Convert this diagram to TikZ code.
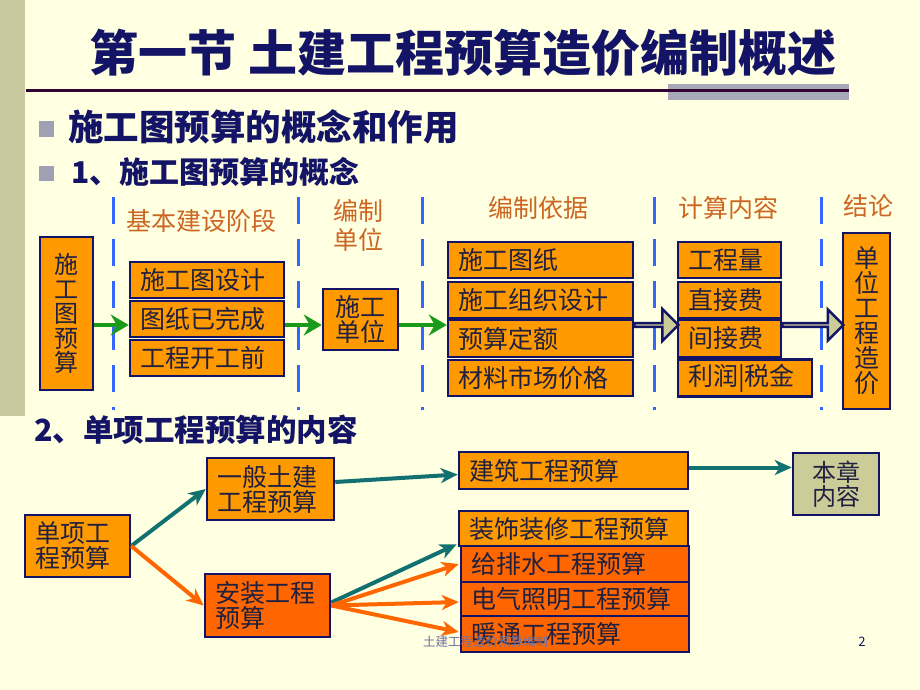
\documentclass[tikz,border=0pt]{standalone}
\usepackage{fontspec}
\setmainfont{Noto Sans CJK SC}
\usetikzlibrary{arrows.meta,shapes.arrows,calc}
\definecolor{bgc}{HTML}{FFFFE1}
\definecolor{stripc}{HTML}{C9C9A0}
\definecolor{navy}{HTML}{141466}
\definecolor{org}{HTML}{FF9900}
\definecolor{orgd}{HTML}{FF6600}
\definecolor{khaki}{HTML}{CCCC99}
\definecolor{grn}{HTML}{1A9A1A}
\definecolor{teal2}{HTML}{117070}
\definecolor{hdr}{HTML}{CC6622}
\definecolor{dblue}{HTML}{3366FF}
\definecolor{bulg}{HTML}{A0A0B4}
\definecolor{barc}{HTML}{A8A8B8}
\definecolor{linec}{HTML}{330033}
\definecolor{txt}{HTML}{202040}
\definecolor{foot}{HTML}{7070A0}
\tikzset{
  box/.style={draw=navy, line width=2.5pt, fill=org, text=txt, inner xsep=10pt, inner ysep=0pt,
              font=\fontsize{25}{25}\selectfont, align=left},
  dbox/.style={box, fill=orgd},
  cbox/.style={box, align=center, inner xsep=0pt},
  hdrtext/.style={text=hdr, font=\fontsize{25}{29}\selectfont, align=center, inner sep=0pt},
  navytext/.style={text=navy, inner sep=0pt, anchor=west},
  dashline/.style={draw=dblue, line width=3pt, dash pattern=on 27pt off 15pt},
  garrow/.style={draw=grn, line width=4pt, -{Stealth[length=18pt,width=21pt,inset=6pt]}},
  tarrow/.style={draw=teal2, line width=4pt, -{Stealth[length=17pt,width=15pt,inset=5pt]}},
  oarrow/.style={draw=orgd, line width=4pt, -{Stealth[length=17pt,width=15pt,inset=5pt]}},
  barrow/.style={single arrow, draw=navy, line width=2.5pt, fill=khaki, inner sep=0pt,
                 single arrow head indent=0pt},
  bullet/.style={fill=bulg, draw=none, minimum size=15pt, inner sep=0pt}
}
\begin{document}
\begin{tikzpicture}[x=1pt,y=-1pt]
\fill[bgc] (0,0) rectangle (920,690);
\useasboundingbox (0,0) rectangle (920,690);
\fill[stripc] (0,0) rectangle (25,416);
% title
\node[text=navy, inner sep=0pt, font=\fontsize{49}{49}\selectfont\bfseries] (title) at (463,53) {第一节 土建工程预算造价编制概述};
\fill[barc] (668,84) rectangle (849,100);
\draw[linec, line width=3pt] (26,91) -- (849,91);
% bullets
\node[bullet] (b1) at (46,129) {};
\node[bullet] (b2) at (46,173) {};
\node[navytext, font=\fontsize{35.5}{36}\selectfont\bfseries] (t1) at (68,127) {施工图预算的概念和作用};
\node[navytext, font=\fontsize{30}{30}\selectfont\bfseries] (t2) at (71,172) {1、施工图预算的概念};
% dashed separators
\foreach \xx in {113,298,422,654,821} \draw[dashline] (\xx,197) -- (\xx,410);
% headers
\node[hdrtext] (h1) at (201,221) {基本建设阶段};
\node[hdrtext] (h2) at (358,225) {编制\\单位};
\node[hdrtext] (h3) at (538,208) {编制依据};
\node[hdrtext] (h4) at (728,208) {计算内容};
\node[hdrtext] (h5) at (868,206) {结论};
% first row of boxes
\node[cbox, minimum width=53pt, minimum height=153pt, font=\fontsize{24}{24.5}\selectfont] (sg) at (66.5,313.5) {施\\工\\图\\预\\算};
\node[box, minimum width=154pt, text width=134pt, minimum height=36pt] (jd1) at (207,280) {施工图设计};
\node[box, minimum width=154pt, text width=134pt, minimum height=36pt] (jd2) at (207,319) {图纸已完成};
\node[box, minimum width=154pt, text width=134pt, minimum height=36pt] (jd3) at (207,358) {工程开工前};
\node[cbox, minimum width=75pt, minimum height=61pt] (sd) at (360.5,319.5) {施工\\单位};
\node[box, minimum width=185pt, text width=165pt, minimum height=36pt] (yj1) at (540.5,260) {施工图纸};
\node[box, minimum width=185pt, text width=165pt, minimum height=36pt] (yj2) at (540.5,300) {施工组织设计};
\node[box, minimum width=185pt, text width=165pt, minimum height=37pt] (yj3) at (540.5,338.5) {预算定额};
\node[box, minimum width=185pt, text width=165pt, minimum height=36pt] (yj4) at (540.5,378) {材料市场价格};
\node[box, minimum width=103pt, text width=83pt, minimum height=36pt] (js1) at (729.5,260) {工程量};
\node[box, minimum width=103pt, text width=83pt, minimum height=36pt] (js2) at (729.5,300) {直接费};
\node[box, minimum width=103pt, text width=83pt, minimum height=37pt] (js3) at (729.5,338.5) {间接费};
\node[box, minimum width=134pt, text width=114pt, minimum height=37pt] (js4) at (745,378) {利润|税金};
\node[cbox, minimum width=47pt, minimum height=176pt, font=\fontsize{25}{25}\selectfont] (dw) at (866.5,321) {单\\位\\工\\程\\造\\价};
% arrows in first row
\coordinate (ay) at (0,325);
\draw[garrow] (sg.east |- ay) -- (jd2.west |- ay);
\draw[garrow] (jd2.east |- ay) -- (sd.west |- ay);
\draw[garrow] (sd.east |- ay) -- (yj3.west |- ay);
\node[barrow, minimum height=44pt, minimum width=32pt, single arrow head extend=10pt] (ba1)
  at ($(yj3.east |- ay)!0.5!(js3.west |- ay)$) {};
\node[barrow, minimum height=61pt, minimum width=31pt, single arrow head extend=9.5pt] (ba2)
  at ($(js3.east |- ay)!0.5!(dw.west |- ay)$) {};
% section 2
\node[navytext, font=\fontsize{30.5}{31}\selectfont\bfseries] (t3) at (34,430) {2、单项工程预算的内容};
\node[box, minimum width=105pt, text width=85pt, minimum height=62pt] (dx) at (77.5,546) {单项工\\程预算};
\node[box, minimum width=127pt, text width=107pt, minimum height=62pt] (yb) at (270.5,489) {一般土建\\工程预算};
\node[dbox, minimum width=125pt, text width=105pt, minimum height=63pt] (az) at (267.5,605.5) {安装工程\\预算};
\node[box, minimum width=229pt, text width=209pt, minimum height=37pt] (jz) at (573.5,470.5) {建筑工程预算};
\node[cbox, fill=khaki, minimum width=86pt, minimum height=62pt, font=\fontsize{24}{24}\selectfont] (bz) at (836,484) {本章\\内容};
\node[box, minimum width=229pt, text width=209pt, minimum height=35pt] (zs) at (573.5,528.5) {装饰装修工程预算};
\node[dbox, minimum width=228pt, text width=208pt, minimum height=36pt] (gp) at (575,564) {给排水工程预算};
\node[dbox, minimum width=228pt, text width=208pt, minimum height=34pt] (dq) at (575,599) {电气照明工程预算};
\node[dbox, minimum width=228pt, text width=208pt, minimum height=36pt] (nt) at (575,634) {暖通工程预算};
% arrows of section 2
\draw[tarrow] (dx.east) -- (yb.west);
\draw[oarrow] (dx.east) -- (az.west);
\draw[tarrow] ([yshift=7pt]yb.east) -- ([yshift=-4pt]jz.west);
\draw[tarrow] ([yshift=3pt]jz.east) -- ([yshift=3pt]jz.east -| bz.west);
\draw[tarrow] ([yshift=3pt]az.east) -- ([xshift=-1pt,yshift=3pt]zs.south west);
\draw[oarrow] (az.east) -- ([xshift=-1pt]gp.west);
\draw[oarrow] (az.east) -- ([xshift=-1pt,yshift=-3pt]dq.west);
\draw[oarrow] (az.east) -- ([xshift=-1pt,yshift=2pt]nt.west);
% footer
\node[text=foot, inner sep=0pt, anchor=west, font=\fontsize{12.5}{13}\selectfont] (ft) at (423,642) {土建工程造价预算编制};
\node[text=navy, inner sep=0pt, font=\fontsize{13}{13}\selectfont] (pg) at (862,642) {2};
\end{tikzpicture}
\end{document}
